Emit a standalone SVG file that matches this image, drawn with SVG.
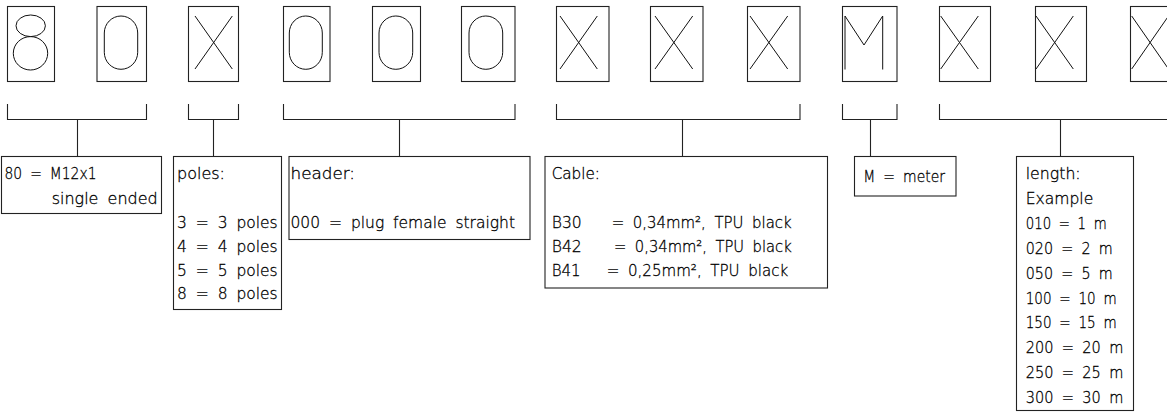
<svg xmlns="http://www.w3.org/2000/svg" width="1167" height="414" viewBox="0 0 1167 414">
<style>
.b{fill:none;stroke:#222;stroke-width:1.1}
.g{fill:none;stroke:#111;stroke-width:1}
.c{fill:none;stroke:#222;stroke-width:1.1}
text{font-family:"DejaVu Sans","Liberation Sans",sans-serif;font-size:15.5px;font-weight:200;word-spacing:4px;fill:#000;stroke:#000;stroke-width:0.3}
</style>
<rect width="1167" height="414" fill="#fff"/>
<g id="digits">
<g id="d1"><rect class="b" x="7.5" y="6.5" width="47" height="75"/><ellipse class="g" cx="30.7" cy="25.8" rx="14.7" ry="10.8"/><ellipse class="g" cx="30.5" cy="53.3" rx="17.2" ry="16.7"/></g>
<g id="d2"><rect class="b" x="97" y="6.5" width="49.5" height="75"/><path class="g" d="M104.3 33 A16.7 17 0 0 1 137.7 33 V52.3 A16.7 17 0 0 1 104.3 52.3 Z"/></g>
<g id="d3"><rect class="b" x="188.5" y="6.5" width="50" height="75"/><path class="g" d="M195 16 L232.3 69 M232.3 16 L195 69"/></g>
<g id="d4"><rect class="b" x="283.5" y="6.5" width="46.5" height="75"/><path class="g" d="M289.3 33 A16.5 17 0 0 1 322.3 33 V52.3 A16.5 17 0 0 1 289.3 52.3 Z"/></g>
<g id="d5"><rect class="b" x="372.5" y="6.5" width="48" height="75"/><path class="g" d="M379 33 A16.85 17 0 0 1 412.7 33 V52.3 A16.85 17 0 0 1 379 52.3 Z"/></g>
<g id="d6"><rect class="b" x="461.5" y="6.5" width="53.5" height="75"/><path class="g" d="M469 33 A16.85 17 0 0 1 502.7 33 V52.3 A16.85 17 0 0 1 469 52.3 Z"/></g>
<g id="d7"><rect class="b" x="556.5" y="6.5" width="52.5" height="75"/><path class="g" d="M560 16 L597.3 69 M597.3 16 L560 69"/></g>
<g id="d8"><rect class="b" x="650.5" y="6.5" width="52.5" height="75"/><path class="g" d="M655 16 L692.7 69 M692.7 16 L655 69"/></g>
<g id="d9"><rect class="b" x="747.5" y="6.5" width="52.5" height="75"/><path class="g" d="M750 16 L787.7 69 M787.7 16 L750 69"/></g>
<g id="d10"><rect class="b" x="842.5" y="6.5" width="54.5" height="75"/><path class="g" d="M845 69.5 V16 L864 45 L882.7 16 V69.5"/></g>
<g id="d11"><rect class="b" x="939.5" y="6.5" width="51" height="75"/><path class="g" d="M940.7 16 L978.3 69 M978.3 16 L940.7 69"/></g>
<g id="d12"><rect class="b" x="1035.5" y="6.5" width="51" height="75"/><path class="g" d="M1036 16 L1073.3 69 M1073.3 16 L1036 69"/></g>
<g id="d13"><rect class="b" x="1130.5" y="6.5" width="51" height="75"/><path class="g" d="M1131.7 16 L1168.5 69 M1168.5 16 L1131.7 69"/></g>
</g>
<g id="connectors">
<path class="c" d="M7.5 104 V119.5 H146.5 V104 M77.5 119.5 V156.5"/>
<path class="c" d="M188.5 104 V119.5 H238.5 V104 M213.5 119.5 V156.5"/>
<path class="c" d="M283.5 104 V119.5 H515 V104 M399.5 119.5 V156.5"/>
<path class="c" d="M556.5 104 V119.5 H800 V104 M682.5 119.5 V156.5"/>
<path class="c" d="M842.5 104 V119.5 H897 V104 M870.5 119.5 V156.5"/>
<path class="c" d="M939.5 104 V119.5 H1172 M1060.5 119.5 V156.5"/>
</g>
<g id="box-connector">
<rect class="b" x="1.5" y="156.5" width="160" height="57"/>
<text x="4.5" y="179.3" textLength="92" lengthAdjust="spacingAndGlyphs">80 = M12x1</text>
<text x="51.7" y="204.3" textLength="106" lengthAdjust="spacingAndGlyphs">single ended</text>
</g>
<g id="box-poles">
<rect class="b" x="173.5" y="156.5" width="108" height="153"/>
<text x="177" y="179.3" textLength="48" lengthAdjust="spacingAndGlyphs">poles:</text>
<text x="177" y="228.3" textLength="100.7" lengthAdjust="spacingAndGlyphs">3 = 3 poles</text>
<text x="177" y="251.9" textLength="100.7" lengthAdjust="spacingAndGlyphs">4 = 4 poles</text>
<text x="177" y="275.7" textLength="100.7" lengthAdjust="spacingAndGlyphs">5 = 5 poles</text>
<text x="177" y="299.2" textLength="100.7" lengthAdjust="spacingAndGlyphs">8 = 8 poles</text>
</g>
<g id="box-header">
<rect class="b" x="289" y="156.5" width="241" height="83"/>
<text x="290.5" y="179.3" textLength="64.5" lengthAdjust="spacingAndGlyphs">header:</text>
<text x="290.5" y="228.3" textLength="224.5" lengthAdjust="spacingAndGlyphs">000 = plug female straight</text>
</g>
<g id="box-cable">
<rect class="b" x="545" y="156.5" width="282.5" height="131.5"/>
<text x="551.7" y="179.3" textLength="48.3" lengthAdjust="spacingAndGlyphs">Cable:</text>
<text x="551.7" y="228.3" textLength="30" lengthAdjust="spacingAndGlyphs">B30</text>
<text x="611.7" y="228.3" textLength="180" lengthAdjust="spacingAndGlyphs">= 0,34mm², TPU black</text>
<text x="551.7" y="252.3" textLength="30" lengthAdjust="spacingAndGlyphs">B42</text>
<text x="614" y="252.3" textLength="177.7" lengthAdjust="spacingAndGlyphs">= 0,34mm², TPU black</text>
<text x="551.7" y="276" textLength="29" lengthAdjust="spacingAndGlyphs">B41</text>
<text x="606.7" y="276" textLength="181.6" lengthAdjust="spacingAndGlyphs">= 0,25mm², TPU black</text>
</g>
<g id="box-meter">
<rect class="b" x="854.5" y="156.5" width="101.5" height="39.5"/>
<text x="863.3" y="182.3" textLength="81.7" lengthAdjust="spacingAndGlyphs">M = meter</text>
</g>
<g id="box-length">
<rect class="b" x="1016.5" y="156.5" width="117" height="254"/>
<text x="1025.7" y="179.3" textLength="55" lengthAdjust="spacingAndGlyphs">length:</text>
<text x="1025.7" y="204.3" textLength="67.6" lengthAdjust="spacingAndGlyphs">Example</text>
<text x="1025.7" y="229" textLength="81" lengthAdjust="spacingAndGlyphs">010 = 1 m</text>
<text x="1025.7" y="253.8" textLength="87" lengthAdjust="spacingAndGlyphs">020 = 2 m</text>
<text x="1025.7" y="278.7" textLength="87" lengthAdjust="spacingAndGlyphs">050 = 5 m</text>
<text x="1025.7" y="303.5" textLength="91" lengthAdjust="spacingAndGlyphs">100 = 10 m</text>
<text x="1025.7" y="328.3" textLength="91" lengthAdjust="spacingAndGlyphs">150 = 15 m</text>
<text x="1025.7" y="353.2" textLength="97.6" lengthAdjust="spacingAndGlyphs">200 = 20 m</text>
<text x="1025.7" y="378" textLength="97.6" lengthAdjust="spacingAndGlyphs">250 = 25 m</text>
<text x="1025.7" y="402.9" textLength="97.6" lengthAdjust="spacingAndGlyphs">300 = 30 m</text>
</g>
</svg>
